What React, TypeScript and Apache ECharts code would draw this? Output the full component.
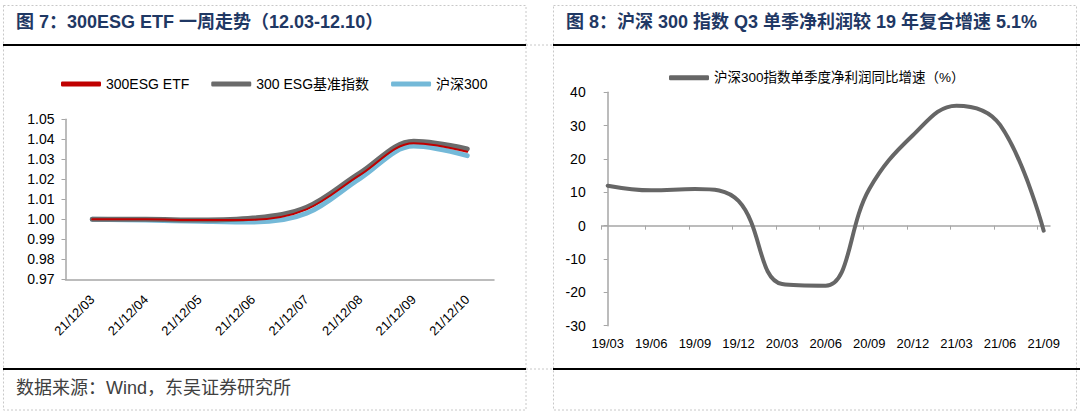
import React, { useEffect, useRef } from "react";
import * as echarts from "echarts";

const FONT = "'Liberation Sans', Arial, 'Noto Sans CJK SC', sans-serif";

// Left chart data
const dates = ["21/12/03", "21/12/04", "21/12/05", "21/12/06", "21/12/07", "21/12/08", "21/12/09", "21/12/10"];
const etf = [1.0, 1.0, 0.9996, 0.9998, 1.005, 1.0222, 1.038, 1.0338];
const bench = [1.0, 1.0, 0.9996, 1.0006, 1.006, 1.0232, 1.039, 1.0352];
const hs300 = [1.0, 0.9996, 0.999, 0.9986, 1.003, 1.0205, 1.0366, 1.0318];

// Right chart data
const quarters = ["19/03", "19/06", "19/09", "19/12", "20/03", "20/06", "20/09", "20/12", "21/03", "21/06", "21/09"];
const profitGrowth = [12.0, 10.6, 11.0, 7.4, -17.5, -18.0, 11.0, 27.1, 36.0, 30.2, -1.5];

const leftNames = ["300ESG ETF", "300 ESG基准指数", "沪深300"];
const rightName = "沪深300指数单季度净利润同比增速（%）";

const TICK_SHIFT = -0.1376;

export default function App() {
  const ref = useRef<HTMLDivElement>(null);

  useEffect(() => {
    if (!ref.current) return;
    const chart = echarts.init(ref.current, null, { renderer: "svg" });
    const axisGray = "#a6a6a6";
    const dash = { stroke: "#c8c8c8", lineWidth: 1, lineDash: [2, 2], fill: "none" };

    const option: any = {
      animation: false,
      backgroundColor: "#ffffff",
      textStyle: { fontFamily: FONT },
      graphic: {
        elements: [
          { type: "rect", silent: true, shape: { x: 3.5, y: 5.5, width: 522.5, height: 404.5 }, style: dash },
          { type: "rect", silent: true, shape: { x: 553.5, y: 5.5, width: 523, height: 404.5 }, style: dash },
          { type: "line", silent: true, shape: { x1: 526, y1: 45, x2: 553, y2: 45 }, style: dash },
          { type: "line", silent: true, shape: { x1: 526, y1: 369, x2: 553, y2: 369 }, style: dash },
          { type: "line", silent: true, shape: { x1: 3, y1: 45, x2: 526, y2: 45 }, style: { stroke: "#000", lineWidth: 2 } },
          { type: "line", silent: true, shape: { x1: 553, y1: 45, x2: 1080, y2: 45 }, style: { stroke: "#000", lineWidth: 2 } },
          { type: "line", silent: true, shape: { x1: 3, y1: 369, x2: 526, y2: 369 }, style: { stroke: "#000", lineWidth: 2 } },
          { type: "line", silent: true, shape: { x1: 553, y1: 369, x2: 1080, y2: 369 }, style: { stroke: "#000", lineWidth: 2 } },
          {
            type: "text", x: 16, y: 22,
            style: { text: "图 7：300ESG ETF 一周走势（12.03-12.10）", fontSize: 18, fontWeight: "bold", fontFamily: FONT, fill: "#1f3864", verticalAlign: "middle" },
          },
          {
            type: "text", x: 566, y: 22,
            style: { text: "图 8：沪深 300 指数 Q3 单季净利润较 19 年复合增速 5.1%", fontSize: 18, fontWeight: "bold", fontFamily: FONT, fill: "#1f3864", verticalAlign: "middle" },
          },
          {
            type: "text", x: 16, y: 388,
            style: { text: "数据来源：Wind，东吴证券研究所", fontSize: 18, fontFamily: FONT, fill: "#404040", verticalAlign: "middle" },
          },
        ],
      },
      legend: [
        {
          data: leftNames,
          left: 61,
          top: 77,
          padding: 0,
          itemWidth: 40,
          itemHeight: 5,
          itemGap: 22,
          icon: "roundRect",
          textStyle: { fontSize: 14, color: "#000", fontFamily: FONT },
        },
        {
          data: [rightName],
          left: 669,
          top: 71,
          padding: 0,
          itemWidth: 40,
          itemHeight: 5,
          icon: "roundRect",
          textStyle: { fontSize: 13.5, color: "#000", fontFamily: FONT },
        },
      ],
      grid: [
        { left: 65.5, right: 586, top: 119.3, bottom: 132.7 },
        { left: 601.7, right: 30, top: 92.3, bottom: 86.3 },
      ],
      xAxis: [
        {
          type: "category",
          gridIndex: 0,
          data: dates,
          boundaryGap: true,
          axisLine: { lineStyle: { color: axisGray, width: 1.5 } },
          axisTick: { length: 4, lineStyle: { color: axisGray } },
          axisLabel: { rotate: 45, interval: 0, fontSize: 13, color: "#000", margin: 18, fontFamily: FONT },
          splitLine: { show: false },
        },
        {
          type: "value",
          gridIndex: 1,
          min: TICK_SHIFT,
          max: 10.145,
          axisLine: { onZero: true, lineStyle: { color: axisGray, width: 1.5 } },
          axisTick: {
            show: true,
            length: 4,
            lineStyle: { color: axisGray },
            customValues: quarters.map((_, i) => i + TICK_SHIFT),
          },
          axisLabel: { show: false },
          splitLine: { show: false },
        },
        {
          type: "value",
          gridIndex: 1,
          position: "bottom",
          min: TICK_SHIFT,
          max: 10.145,
          axisLine: { show: false, onZero: false },
          axisTick: { show: false },
          axisLabel: {
            fontSize: 13,
            color: "#000",
            margin: 11,
            fontFamily: FONT,
            customValues: quarters.map((_, i) => i),
            formatter: (v: number) => quarters[Math.round(v)] ?? "",
          },
          splitLine: { show: false },
        },
      ],
      yAxis: [
        {
          type: "value",
          gridIndex: 0,
          min: 0.97,
          max: 1.05,
          interval: 0.01,
          axisLine: { show: true, lineStyle: { color: axisGray, width: 1.5 } },
          axisTick: { show: true, length: 4, lineStyle: { color: axisGray } },
          axisLabel: { fontSize: 14, color: "#000", margin: 11, fontFamily: FONT, formatter: (v: number) => v.toFixed(2) },
          splitLine: { show: false },
        },
        {
          type: "value",
          gridIndex: 1,
          min: -30,
          max: 40,
          interval: 10,
          axisLine: { show: true, lineStyle: { color: axisGray, width: 1.5 } },
          axisTick: { show: true, length: 4, lineStyle: { color: axisGray } },
          axisLabel: { fontSize: 14, color: "#000", margin: 16, fontFamily: FONT },
          splitLine: { show: false },
        },
      ],
      series: [
        {
          name: leftNames[2], type: "line", xAxisIndex: 0, yAxisIndex: 0, data: hs300,
          smooth: 0.35, symbol: "none", color: "#74b9d8",
          lineStyle: { width: 5, color: "#74b9d8", cap: "round" },
        },
        {
          name: leftNames[1], type: "line", xAxisIndex: 0, yAxisIndex: 0, data: bench,
          smooth: 0.35, symbol: "none", color: "#6b6b6b",
          lineStyle: { width: 5, color: "#6b6b6b", cap: "round" },
        },
        {
          name: leftNames[0], type: "line", xAxisIndex: 0, yAxisIndex: 0, data: etf,
          smooth: 0.35, symbol: "none", color: "#c00000",
          lineStyle: { width: 2, color: "#c00000", cap: "round" },
        },
        {
          name: rightName, type: "line", xAxisIndex: 1, yAxisIndex: 1,
          data: profitGrowth.map((v, i) => [i, v]),
          smooth: 0.4, symbol: "none", color: "#666666",
          lineStyle: { width: 4, color: "#666666", cap: "round" },
        },
      ],
    };

    chart.setOption(option);
    return () => chart.dispose();
  }, []);

  return (
    <div
      ref={ref}
      style={{ position: "fixed", left: 0, top: 0, width: 1080, height: 412, background: "#fff" }}
    />
  );
}
